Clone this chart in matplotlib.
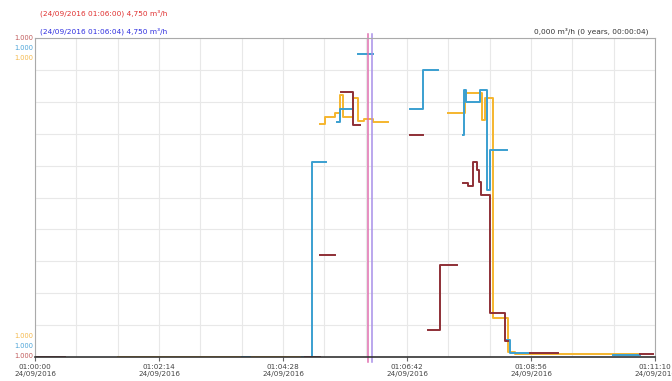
import numpy as np
import matplotlib.pyplot as plt

nan = np.nan

# time in seconds after 01:00:00, values normalised 0..1 (step traces, nan = gap)
red_t = [0, 32, 292, 308, 308, 324, 331, 344, 351, 405, 419, 425, 438, 456,
         462, 468, 473, 478, 480, 482, 492, 508, 511, 535, 565, 654, 668]
red_v = [0, nan, 0, nan, 0.32, nan, 0.831, 0.727, nan, 0.696, nan, 0.085, 0.288, nan,
         0.545, 0.536, 0.611, 0.586, 0.549, 0.508, 0.138, 0.05, nan, 0.013, nan, 0.01, nan]

blue_t = [224, 232, 289, 299, 314, 326, 330, 344, 349, 365, 405, 419, 435,
          463, 464, 466, 481, 488, 492, 510, 510, 513, 535, 625, 654]
blue_v = [0, nan, 0, 0.611, nan, 0.737, 0.777, nan, 0.95, nan, 0.777, 0.90, nan,
          0.696, 0.837, 0.80, 0.837, 0.524, 0.649, nan, 0.053, 0.013, nan, 0.006, nan]

orange_t = [90, 224, 232, 289, 308, 313, 324, 330, 333, 344, 349, 355, 365, 381,
            446, 465, 483, 486, 495, 511, 519, 654]
orange_v = [0, nan, 0, nan, 0.730, 0.752, 0.765, 0.822, 0.752, 0.812, 0.740, 0.746, 0.737, nan,
            0.765, 0.828, 0.743, 0.812, 0.122, 0.016, 0.01, nan]

tick_secs = [0, 134, 268, 402, 536, 670]
tick_labels = ['01:00:00\n24/09/2016', '01:02:14\n24/09/2016', '01:04:28\n24/09/2016',
               '01:06:42\n24/09/2016', '01:08:56\n24/09/2016', '01:11:10\n24/09/2016']

cursor_red = 360
cursor_blue = 364

RED = '#8e2f36'
BLUE = '#3a9fd0'
ORANGE = '#f5b52e'

fig = plt.figure(figsize=(6.72, 3.81), dpi=100)
ax = fig.add_axes([35 / 672, 24 / 381, 620 / 672, 319 / 381])

ax.plot(orange_t, orange_v, drawstyle='steps-post', color=ORANGE, lw=1.4)
ax.plot(blue_t, blue_v, drawstyle='steps-post', color=BLUE, lw=1.4)
ax.plot(red_t, red_v, drawstyle='steps-post', color=RED, lw=1.4)

# cursors
ax.axvline(cursor_red, ymin=-0.015, ymax=1.012, color='#e070b0', lw=1.1, clip_on=False)
ax.axvline(cursor_blue, ymin=-0.015, ymax=1.012, color='#a890e8', lw=1.1, clip_on=False)

ax.set_xlim(0, 670)
ax.set_ylim(0, 1)
ax.set_xticks(tick_secs)
ax.set_xticklabels(tick_labels, fontsize=5.2, color='#444444', linespacing=1.3)
ax.set_xticks(np.arange(0, 671, 670 / 15), minor=True)
ax.set_yticks(np.arange(0, 1.01, 0.1))
ax.set_yticklabels([])
ax.tick_params(axis='y', length=0)
ax.tick_params(axis='x', which='major', length=3, color='#666666', pad=2)
ax.tick_params(axis='x', which='minor', length=0)
ax.grid(True, which='both', color='#e8e8e8', lw=0.8)
ax.set_axisbelow(True)
for side in ['left', 'top', 'right']:
    ax.spines[side].set_color('#aaaaaa')
    ax.spines[side].set_linewidth(0.8)
ax.spines['bottom'].set_color('#333333')
ax.spines['bottom'].set_linewidth(1.2)

# per-trace scale labels
for i, c in enumerate(['#c05a5a', '#4aa3d8', '#f5b84a']):
    fig.text(33 / 672, 1 - (38 + 10 * i) / 381, '1.000', color=c, fontsize=4.8,
             ha='right', va='center')
for i, c in enumerate(['#f5b84a', '#4aa3d8', '#c05a5a']):
    fig.text(33 / 672, 1 - (336 + 10 * i) / 381, '1.000', color=c, fontsize=4.8,
             ha='right', va='center')

fig.text(40 / 672, 1 - 13 / 381, '(24/09/2016 01:06:00) 4,750 m\u00b3/h', color='#e03030',
         fontsize=5.3, va='center')
fig.text(40 / 672, 1 - 31 / 381, '(24/09/2016 01:06:04) 4,750 m\u00b3/h', color='#3030e0',
         fontsize=5.3, va='center')
fig.text(648 / 672, 1 - 31 / 381, '0,000 m\u00b3/h (0 years, 00:00:04)', color='#333333',
         fontsize=5.3, va='center', ha='right')

fig.savefig('out.png', dpi=100)
